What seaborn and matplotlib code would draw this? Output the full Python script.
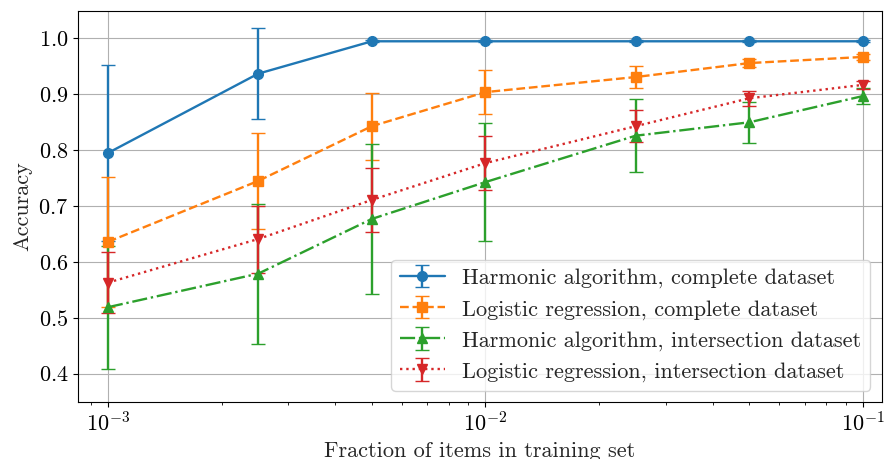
import matplotlib
matplotlib.use("Agg")
import matplotlib.pyplot as plt
import seaborn as sns

# fractions of items used for training
fractions = [0.001, 0.0025, 0.005, 0.01, 0.025, 0.05, 0.1]

# mean accuracy and error per method
harm_complete = [0.795, 0.937, 0.995, 0.995, 0.995, 0.995, 0.995]
harm_complete_err = [0.157, 0.081, 0.002, 0.002, 0.002, 0.002, 0.002]

logit_complete = [0.636, 0.745, 0.843, 0.904, 0.931, 0.956, 0.967]
logit_complete_err = [0.116, 0.086, 0.060, 0.039, 0.020, 0.007, 0.005]

harm_inter = [0.519, 0.579, 0.677, 0.743, 0.826, 0.850, 0.897]
harm_inter_err = [0.110, 0.125, 0.134, 0.105, 0.065, 0.037, 0.015]

logit_inter = [0.563, 0.641, 0.711, 0.777, 0.843, 0.893, 0.917]
logit_inter_err = [0.054, 0.060, 0.057, 0.048, 0.029, 0.013, 0.007]

labels = ["Harmonic algorithm, complete dataset",
          "Logistic regression, complete dataset",
          "Harmonic algorithm, intersection dataset",
          "Logistic regression, intersection dataset"]

sns.set_style("ticks")
plt.rcParams['font.family'] = 'serif'
plt.rcParams['font.serif'] = ['cmr10', 'DejaVu Serif']
plt.rcParams['mathtext.fontset'] = 'cm'
plt.rcParams['axes.formatter.use_mathtext'] = True
plt.rcParams['axes.edgecolor'] = 'black'
plt.rcParams['xtick.color'] = 'black'
plt.rcParams['ytick.color'] = 'black'

colors = sns.color_palette("tab10", 4)

fig, ax = plt.subplots(figsize=(8.86, 4.59), dpi=100)

series = [(harm_complete, harm_complete_err, 'o', '-'),
          (logit_complete, logit_complete_err, 's', '--'),
          (harm_inter, harm_inter_err, '^', '-.'),
          (logit_inter, logit_inter_err, 'v', ':')]

for (vals, errs, mk, ls), lab, c in zip(series, labels, colors):
    ax.errorbar(fractions, vals, yerr=errs, marker=mk, linestyle=ls,
                color=c, capsize=5, markersize=7, linewidth=1.7, label=lab)

ax.set_xscale('log')
ax.set_xlim(0.000833, 0.112)
ax.set_ylim(0.35, 1.05)
ax.set_yticks([0.4, 0.5, 0.6, 0.7, 0.8, 0.9, 1.0])
ax.grid(True, color='#b0b0b0', linewidth=0.8)
ax.set_xlabel('Fraction of items in training set', fontsize=16)
ax.set_ylabel('Accuracy', fontsize=16)
ax.tick_params(labelsize=16)
ax.legend(loc='lower right', fontsize=16, framealpha=0.8)

fig.subplots_adjust(left=0.088, right=0.995, top=0.977, bottom=0.125)
fig.savefig('out.png', dpi=100)
